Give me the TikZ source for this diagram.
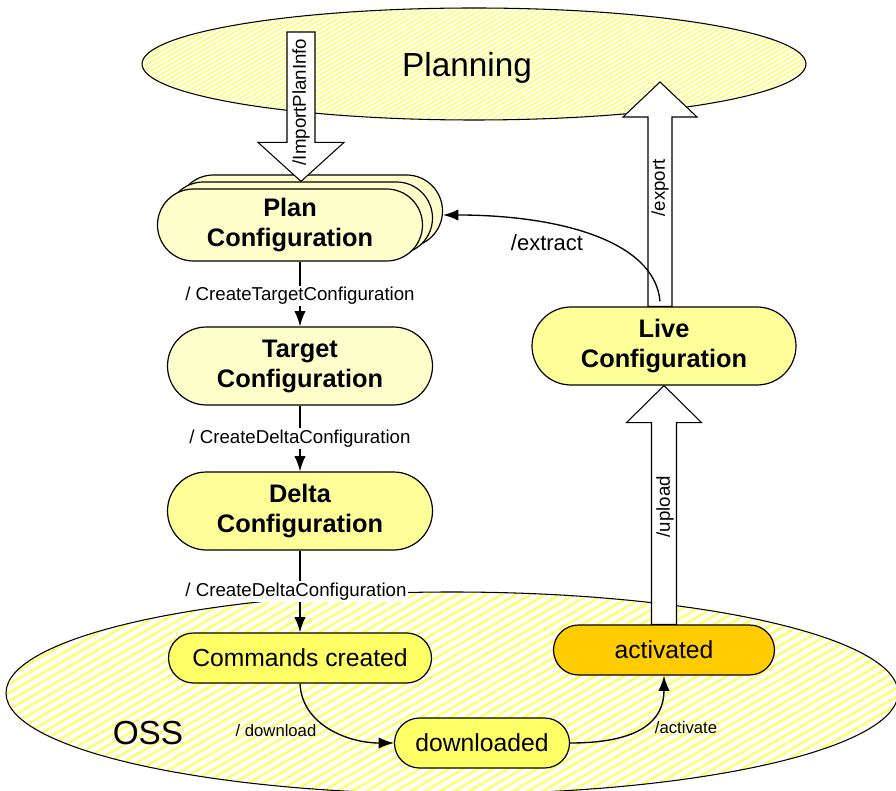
\documentclass[tikz,border=0pt]{standalone}
\usepackage{fontspec}
\setmainfont{Liberation Sans}
\usetikzlibrary{shapes.misc,shadows,calc,arrows.meta,patterns.meta}

\definecolor{PlanFill}{HTML}{FFFFCC}
\definecolor{DeltaFill}{HTML}{FFFF99}
\definecolor{OssFill}{HTML}{FFFF66}
\definecolor{ActiveFill}{HTML}{FFCC00}
\definecolor{HatchColor}{HTML}{FFFF66}

\tikzset{%
	% Style of the big areas
	Area/.style={draw=black, line width=0.8pt},
	PlanningHatch/.style={pattern={Lines[angle=30,distance=3pt,line width=1.1pt]}, pattern color=HatchColor},
	OssHatch/.style={pattern={Lines[angle=30,distance=5.5pt,line width=1.8pt]}, pattern color=HatchColor},
	% Style of the area label
	AreaName/.style={font=\fontsize{25}{30}\selectfont, anchor=base},
	% Style of the state
	State/.style={rounded rectangle, draw=black, line width=0.9pt, align=center, inner sep=0pt},
	BigState/.style={State, minimum width=198.75pt, minimum height=58.5pt, font=\bfseries\fontsize{19}{22.5}\selectfont},
	SmallState/.style={State, minimum height=37.5pt, font=\fontsize{18.5}{22}\selectfont},
	% Style of the transition
	Transition/.style={line width=1pt, -{Latex[length=11.5pt,width=8.5pt]}},
	% Style of the transition label
	TransitionName/.style={font=\fontsize{14}{16}\selectfont, fill=white, inner sep=1pt},
	FreeName/.style={font=\fontsize{12.5}{15}\selectfont, anchor=base},
	% Style of the block arrow
	BlockArrow/.style={draw=black, fill=white, line width=0.8pt},
	BlockName/.style={font=\fontsize{14}{16}\selectfont, rotate=90},
}

\begin{document}
\begin{tikzpicture}[x=0.75pt,y=-0.75pt] % STYLES

\fill[white] (0,0) rectangle (896,791);
\useasboundingbox (0,0) rectangle (896,791);

%~~~~~~~~~~~~~~~~~~~~~~~~~~~~~~~~~~~~~~~~~~~~~~~~~~
% Set Areas
%~~~~~~~~~~~~~~~~~~~~~~~~~~~~~~~~~~~~~~~~~~~~~~~~~~
\draw[Area, PlanningHatch] (474, 64) ellipse [x radius=332, y radius=56];
\node[AreaName] (APlanning) at (467, 77) {Planning};

\draw[Area, OssHatch] (452, 693) ellipse [x radius=446, y radius=101];
\node[AreaName] (AOss) at (148, 744) {OSS};

%~~~~~~~~~~~~~~~~~~~~~~~~~~~~~~~~~~~~~~~~~~~~~~~~~~
% Set States
%~~~~~~~~~~~~~~~~~~~~~~~~~~~~~~~~~~~~~~~~~~~~~~~~~~
\node[BigState, fill=PlanFill, minimum height=54pt,
	double copy shadow={shadow xshift=7.5pt, shadow yshift=5.25pt, fill=PlanFill, draw=black, line width=0.9pt}]
	(NPlan) at (290, 225) {Plan\\Configuration};

\node[BigState, fill=PlanFill] (NTarget) at (300, 366) {Target\\Configuration};

\node[BigState, fill=DeltaFill] (NDelta) at (300, 511) {Delta\\Configuration};

\node[BigState, fill=DeltaFill, minimum width=198pt] (NLive) at (664, 346) {Live\\Configuration};

\node[SmallState, fill=OssFill, minimum width=197.25pt] (NCommands) at (300, 658) {Commands created};

\node[SmallState, fill=OssFill, minimum width=131.25pt] (NDown) at (482, 743) {downloaded};

\node[SmallState, fill=ActiveFill, minimum width=165.75pt] (NActive) at (664, 650) {activated};

%~~~~~~~~~~~~~~~~~~~~~~~~~~~~~~~~~~~~~~~~~~~~~~~~~~
% Set Block Arrows
%~~~~~~~~~~~~~~~~~~~~~~~~~~~~~~~~~~~~~~~~~~~~~~~~~~
%Block arrow from Planning to Plan Configuration
\coordinate (ImportStart) at (301, 32);
\coordinate (ImportTip) at ($ (NPlan.north) + (11, -7) $);
\draw[BlockArrow] ($ (ImportStart) + (-14, 0) $) -- ($ (ImportTip) + (-14, -39) $)
	-- ($ (ImportTip) + (-43, -39) $) -- (ImportTip) -- ($ (ImportTip) + (43, -39) $)
	-- ($ (ImportTip) + (14, -39) $) -- ($ (ImportStart) + (14, 0) $) -- cycle;
\node[BlockName] at ($ (ImportStart) + (0, 70) $) {/ImportPlanInfo};

%Block arrow from Live Configuration to Planning
\coordinate (ExportTip) at (660, 82);
\draw[BlockArrow] ($ (ExportTip |- NLive.north) + (-12, 0) $) -- ($ (ExportTip) + (-12, 35) $)
	-- ($ (ExportTip) + (-37, 35) $) -- (ExportTip) -- ($ (ExportTip) + (37, 35) $)
	-- ($ (ExportTip) + (12, 35) $) -- ($ (ExportTip |- NLive.north) + (12, 0) $) -- cycle;
\node[BlockName] at ($ (ExportTip) + (0, 106) $) {/export};

%Block arrow from activated to Live Configuration
\draw[BlockArrow] ($ (NActive.north) + (-12.5, 0) $) -- ($ (NLive.south) + (-12.5, 37) $)
	-- ($ (NLive.south) + (-37.5, 37) $) -- (NLive.south) -- ($ (NLive.south) + (37.5, 37) $)
	-- ($ (NLive.south) + (12.5, 37) $) -- ($ (NActive.north) + (12.5, 0) $) -- cycle;
\node[BlockName] at ($ (NLive.south) + (1, 121) $) {/upload};

%~~~~~~~~~~~~~~~~~~~~~~~~~~~~~~~~~~~~~~~~~~~~~~~~~~
% Set Transitions
%~~~~~~~~~~~~~~~~~~~~~~~~~~~~~~~~~~~~~~~~~~~~~~~~~~
%Transition from Plan to Target
\draw[Transition] (NPlan.south -| NTarget.north) -- (NTarget.north)
	node[TransitionName, pos=0.53] {/ CreateTargetConfiguration};

%Transition from Target to Delta
\draw[Transition] (NTarget.south) -- (NDelta.north)
	node[TransitionName, pos=0.5] {/ CreateDeltaConfiguration};

%Transition from Delta to Commands created
\draw[Transition] (NDelta.south) -- (NCommands.north)
	node[TransitionName, pos=0.5, xshift=-3] {/ CreateDeltaConfiguration};

%Transition from Commands created to downloaded
\draw[Transition] (NCommands.south) .. controls +(2, 42) and +(-45, 0) .. (NDown.west);
\node[FreeName] at (276, 736) {/ download};

%Transition from downloaded to activated
\draw[Transition] (NDown.east) .. controls +(70, 0) and +(0, 45) .. (NActive.south);
\node[FreeName] at (686, 733) {/activate};

%Transition from Live to Plan
\draw[Transition] ($ (NLive.north) + (-4, -5) $) .. controls +(-5, -60) and +(117, 0) .. ($ (NPlan.east) + (20, -10) $);
\node[FreeName, font=\fontsize{16.5}{19}\selectfont] at (547, 251) {/extract};

\end{tikzpicture}
\end{document}
